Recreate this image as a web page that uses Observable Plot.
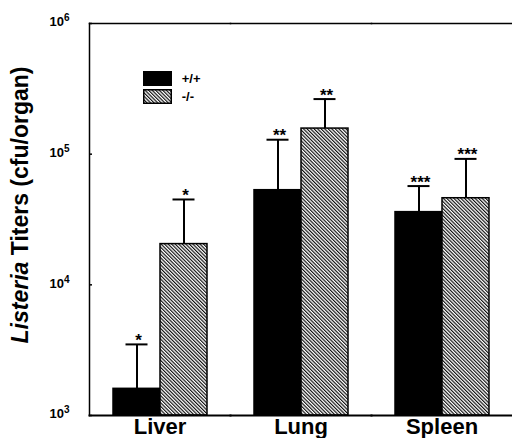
<!DOCTYPE html>
<html><head><meta charset="utf-8">
<script src="https://cdn.jsdelivr.net/npm/d3@7"></script>
<script src="https://cdn.jsdelivr.net/npm/@observablehq/plot@0.6"></script>
<style>
html,body{margin:0;padding:0;background:#fff;overflow:hidden}
#wrap{position:relative;width:512px;height:438px}
#wrap > svg{position:absolute;left:0;top:0}
.legend{position:absolute;left:142.7px;top:71px;font:bold 13px "Liberation Sans",Arial,sans-serif;color:#000}
.legend .row{display:flex;align-items:center;height:15px;margin-bottom:3px}
.legend .row svg{display:block;margin-right:10px}
g[aria-label="stars"] text{letter-spacing:3px}
</style></head><body>
<svg width="0" height="0" style="position:absolute">
<defs><pattern id="hatch" patternUnits="userSpaceOnUse" width="2.5" height="10" patternTransform="rotate(-45)"><rect width="2.5" height="10" fill="#fff"/><line x1="0.6" y1="0" x2="0.6" y2="10" stroke="#000" stroke-width="1.1"/></pattern></defs></svg>
<div id="wrap"></div>
<script>
const organs = ["Liver", "Lung", "Spleen"];
const genotypes = ["+/+", "-/-"];
const fills = ["#000", "url(#hatch)"];
const wtMean = [1600, 53000, 36000];
const wtUpper = [3500, 129000, 57000];
const koMean = [20500, 157000, 46000];
const koUpper = [45000, 264000, 92000];
const wtStars = ["*", "**", "***"];
const koStars = ["*", "**", "***"];
const yTicks = [1e3, 1e4, 1e5, 1e6];
const yLabel = ["Listeria", " Titers (cfu/organ)"];

const rows = organs.flatMap((o, i) => [
  {organ: o, genotype: genotypes[0], mean: wtMean[i], upper: wtUpper[i], stars: wtStars[i]},
  {organ: o, genotype: genotypes[1], mean: koMean[i], upper: koUpper[i], stars: koStars[i]}
]);

const font = '"Liberation Sans", Arial, sans-serif';
const plot = Plot.plot({
  width: 512, height: 438,
  marginTop: 23, marginBottom: 23, marginLeft: 88, marginRight: 0,
  style: {fontFamily: font, fontWeight: "bold", background: "white", overflow: "visible", color: "black"},
  fx: {domain: organs, padding: 0, axis: null, label: null},
  x: {domain: genotypes, paddingInner: 0, paddingOuter: 0.5, axis: null},
  y: {type: "log", domain: [yTicks[0], yTicks[yTicks.length - 1]], axis: null},
  color: {domain: genotypes, range: fills},
  marks: [
    Plot.barY(rows, {fx: "organ", x: "genotype", y1: yTicks[0], y2: "mean", fill: "genotype", stroke: "black", strokeWidth: 1.5}),
    Plot.ruleX(rows, {fx: "organ", x: "genotype", y1: "mean", y2: "upper", strokeWidth: 2}),
    Plot.tickY(rows, {fx: "organ", x: "genotype", y: "upper", strokeWidth: 2, inset: 12.5}),
    Plot.text(rows, {fx: "organ", x: "genotype", y: "upper", text: "stars", fontSize: 17, lineAnchor: "bottom", dy: 1.5, dx: 1.5, ariaLabel: "stars"}),
    Plot.frame({anchor: "top", strokeWidth: 1.5}),
    Plot.frame({anchor: "bottom", strokeWidth: 2}),
    Plot.frame({anchor: "left", facetAnchor: "left", strokeWidth: 1.5}),
    Plot.axisY(yTicks, {tickSize: -3, text: null, strokeWidth: 1.5}),
    Plot.axisY(yTicks, {tickSize: 0, tickPadding: 20, fontSize: 13, dy: -1.5, label: null,
      tickFormat: d => "10^" + Math.round(Math.log10(d))}),
    Plot.axisFx({anchor: "bottom", tickSize: 0, tickPadding: 3, fontSize: 22, label: null})
  ]
});
document.getElementById("wrap").appendChild(plot);

// superscript exponents in tick labels
d3.select(plot).selectAll('text').each(function() {
  if (!this.textContent.includes("^")) return;
  const [base, exp] = this.textContent.split("^");
  const t = d3.select(this);
  t.text(base).style("font-size", "13px");
  t.append("tspan").style("font-size", "10px").attr("dy", -5).text(exp);
});

// y-axis title with italic genus name
const yt = d3.select(plot).append("text")
  .attr("transform", "translate(28,205) rotate(-90)")
  .attr("text-anchor", "middle")
  .attr("font-size", 23).attr("font-weight", "bold").attr("fill", "black");
yt.append("tspan").attr("font-style", "italic").text(yLabel[0]);
yt.append("tspan").text(yLabel[1]);

// legend
const color = plot.scale("color");
const lg = d3.select("#wrap").append("div").attr("class", "legend");
genotypes.forEach(g => {
  const r = lg.append("div").attr("class", "row");
  const s = r.append("svg").attr("width", 29).attr("height", 15);
  s.append("rect").attr("x", 0.75).attr("y", 0.75).attr("width", 27.5).attr("height", 13.5)
    .attr("fill", color.apply(g)).attr("stroke", "black").attr("stroke-width", 1.5);
  r.append("span").text(g);
});
</script>
</body></html>
